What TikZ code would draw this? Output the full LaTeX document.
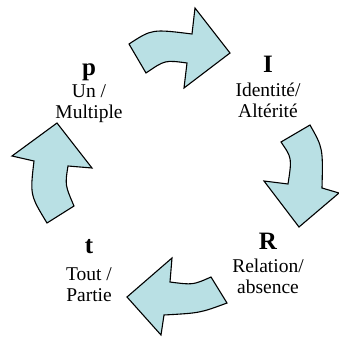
\documentclass[tikz,border=0pt]{standalone}
\usepackage{fontspec}
\setmainfont{Liberation Serif}
\usetikzlibrary{positioning}
\definecolor{arrowblue}{RGB}{185,224,228}

\begin{document}
\begin{tikzpicture}[x=1pt, y=-1pt,
  curvedarrow/.style={draw=black, fill=arrowblue, line width=1.1pt},
  key/.style={anchor=base, inner sep=0pt, font=\fontsize{25}{25}\selectfont\bfseries},
  word/.style={anchor=base, inner sep=0pt, font=\fontsize{19.5}{19.5}\selectfont}]
\useasboundingbox (0,0) rectangle (339,341);
% the four bent arrows
\draw[curvedarrow] (129,44) .. controls (152,29) .. (192,34) -- (195,8) -- (230,53) -- (184,88) -- (187,63) .. controls (165,60) .. (146,73) -- cycle;
\draw[curvedarrow] (281,142) -- (310,125) .. controls (323,148) .. (322,188) -- (339,193) -- (299,227) -- (264,181) -- (288,184) .. controls (292,158) .. (281,142) -- cycle;
\draw[curvedarrow] (211,277) -- (227,303) .. controls (200,313) .. (164,315) -- (161,335) -- (127,297) -- (172,258) -- (170,282) .. controls (193,285) .. (211,277) -- cycle;
\draw[curvedarrow] (47,223) -- (74,206) .. controls (65,185) .. (68,166) -- (92,168) -- (57,123) -- (12,156) -- (34,161) .. controls (30,195) .. (47,223) -- cycle;
% labels
\node[key] (p) at (89,75) {p};
\node[word] (un) at (89,97) {Un /};
\node[word] (multiple) at (89,118) {Multiple};
\node[key] (I) at (268,72) {I};
\node[word] (identite) at (268,96) {Identité/};
\node[word] (alterite) at (268,117) {Altérité};
\node[key] (R) at (268,249) {R};
\node[word] (relation) at (268,272) {Relation/};
\node[word] (absence) at (268,293) {absence};
\node[key] (t) at (89,253) {t};
\node[word] (tout) at (89,280) {Tout /};
\node[word] (partie) at (89,301) {Partie};
\end{tikzpicture}
\end{document}
